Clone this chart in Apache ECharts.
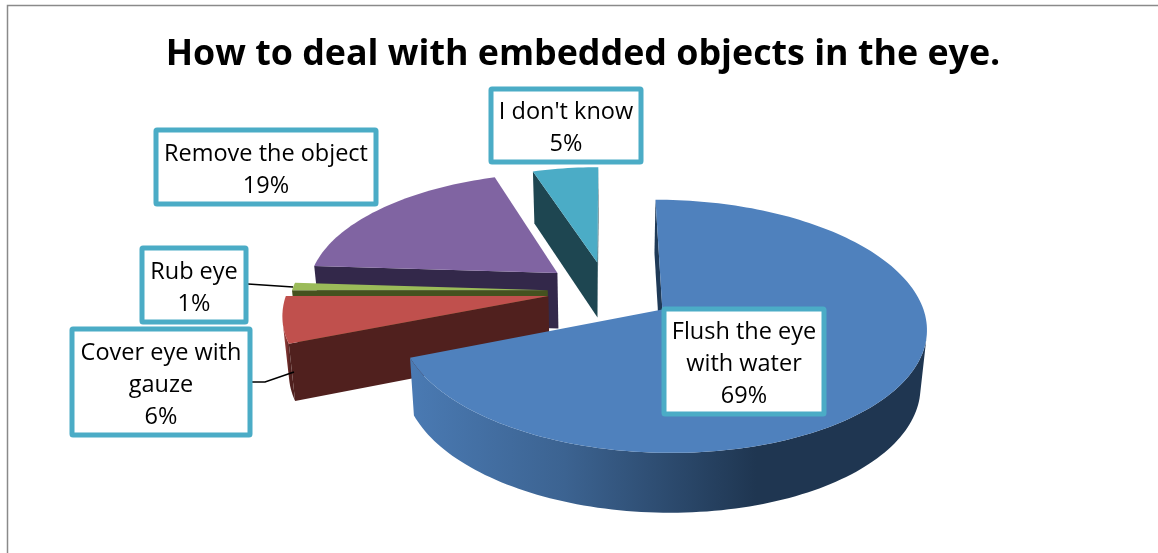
<!DOCTYPE html>
<html><head><meta charset="utf-8">
<style>html,body{margin:0;padding:0;background:#fff}#c{width:1158px;height:553px}</style>
<script src="https://cdn.jsdelivr.net/npm/echarts@6/dist/echarts.min.js"></script>
</head><body><div id="c"></div>
<script>
const titleText = 'How to deal with embedded objects in the eye.';
const categories = ['Flush the eye\nwith water', 'Cover eye with\ngauze', 'Rub eye', 'Remove the object', "I don't know"];
const values = [69, 6, 1, 19, 5];
const explode = [0.27, 0.22, 0.22, 0.25, 0.25];
const radius = [1, 1.02, 1, 0.98, 0.95];
const nudgeX = [0, 0, 0, 3, 3];
const paintOrder = [4, 3, 2, 1, 0];

const topColors = ['#4f81bd', '#c0504d', '#9bbb59', '#8064a2', '#4bacc6'];
const faceColors = ['#1f3a57', '#50201e', '#45521f', '#33284a', '#1e4651'];
const rimStops = [
  [[0, '#4a7ab3'], [0.3, '#3c6391'], [0.67, '#1f3651'], [1, '#1f3651']],
  [[0, '#b04a47'], [0.6, '#50201e'], [1, '#50201e']],
  [[0, '#45521f'], [1, '#45521f']],
  [[0, '#33284a'], [1, '#33284a']],
  [[0, '#1e4651'], [1, '#1e4651']]
];
const boxes = [[664, 309, 160, 105], [72, 329, 178, 106], [142, 248, 104, 74], [156, 130, 220, 74], [491, 89, 150, 73]];
const leaders = [null, [[252, 382], [265, 382], [294, 372]], [[248, 284], [293, 287]], null, null];

const CX = 604, CY = 291, RX = 256, RY = 119.5, K = 0.13, DROP = 56, DROP_GROW = 0.06, TAPER = 0.98;
const total = values.reduce((a, b) => a + b, 0);

function proj(u, v, lower, nx) {
  const w = 1 - K * v;
  const x = RX * u / w;
  return [CX + nx + (lower ? x * TAPER : x), CY + RY * v / w + (lower ? DROP * (1 + DROP_GROW * v) : 0)];
}
function area(p) {
  let s = 0;
  for (let i = 0; i < p.length; i++) { const a = p[i], b = p[(i + 1) % p.length]; s += a[0] * b[1] - b[0] * a[1]; }
  return s / 2;
}

function renderItem(params, api) {
  const i = params.dataIndex;
  const val = api.value(0);
  let before = 0;
  for (let j = 0; j < i; j++) before += values[j];
  const a0 = before / total * 2 * Math.PI, a1 = (before + val) / total * 2 * Math.PI;
  const mid = (a0 + a1) / 2;
  const ou = Math.sin(mid) * explode[i], ov = -Math.cos(mid) * explode[i];
  const base = paintOrder[i] * 10;
  const nx = nudgeX[i], r = radius[i];
  const steps = Math.max(6, Math.ceil((a1 - a0) * 40));
  const topRim = [], lowRim = [];
  for (let s = 0; s <= steps; s++) {
    const a = a0 + (a1 - a0) * s / steps;
    const u = ou + r * Math.sin(a), v = ov - r * Math.cos(a);
    topRim.push(proj(u, v, false, nx));
    lowRim.push(proj(u, v, true, nx));
  }
  const apexT = proj(ou, ov, false, nx), apexB = proj(ou, ov, true, nx);
  const kids = [];
  const poly = (pts, fill, z) => kids.push({ type: 'polygon', shape: { points: pts }, style: { fill: fill }, z2: base + z });
  const f0 = [apexT, topRim[0], lowRim[0], apexB];
  const f1 = [topRim[steps], apexT, apexB, lowRim[steps]];
  if (area(f0) < 0) poly(f0, faceColors[i], 1);
  if (area(f1) < 0) poly(f1, faceColors[i], 1);
  let run = [];
  const flush = () => {
    if (run.length > 1) {
      const pts = run.map(s => topRim[s]).concat(run.slice().reverse().map(s => lowRim[s]));
      const grad = new echarts.graphic.LinearGradient(0, 0, 1, 0, rimStops[i].map(s => ({ offset: s[0], color: s[1] })));
      poly(pts, grad, 2);
    }
    run = [];
  };
  for (let s = 0; s < steps; s++) {
    const q = [topRim[s], topRim[s + 1], lowRim[s + 1], lowRim[s]];
    if (area(q) < 0) { if (!run.length) run.push(s); run.push(s + 1); } else flush();
  }
  flush();
  poly([apexT].concat(topRim), topColors[i], 3);
  if (leaders[i]) kids.push({ type: 'polyline', shape: { points: leaders[i] }, style: { stroke: '#000', lineWidth: 1.5, fill: null }, z2: 90 });
  const b = boxes[i];
  kids.push({ type: 'rect', shape: { x: b[0], y: b[1], width: b[2], height: b[3], r: 1 }, style: { fill: '#fff', stroke: '#4bacc6', lineWidth: 5 }, z2: 1000 });
  kids.push({ type: 'text', x: b[0] + b[2] / 2, y: b[1] + b[3] / 2 + 3, style: {
    text: categories[i] + '\n' + val + '%', fill: '#000', align: 'center', verticalAlign: 'middle',
    font: '23.5px "Open Sans"', lineHeight: 32 }, z2: 1001 });
  return { type: 'group', children: kids };
}

const chart = echarts.init(document.getElementById('c'), null, { renderer: 'canvas' });
chart.setOption({
  animation: false,
  backgroundColor: '#fff',
  title: { text: titleText, left: 578, top: 32, textAlign: 'center',
    textStyle: { fontFamily: 'Open Sans', fontWeight: 'bold', fontSize: 35.8, color: '#000' } },
  graphic: [{ type: 'polyline', shape: { points: [[7.5, 553], [7.5, 5.5], [1158, 5.5]] }, style: { stroke: '#8a8a8a', lineWidth: 1.5, fill: null } }],
  series: [{ type: 'custom', coordinateSystem: 'none', renderItem: renderItem, data: values.map(v => [v]), clip: false, silent: true }]
});
</script></body></html>
